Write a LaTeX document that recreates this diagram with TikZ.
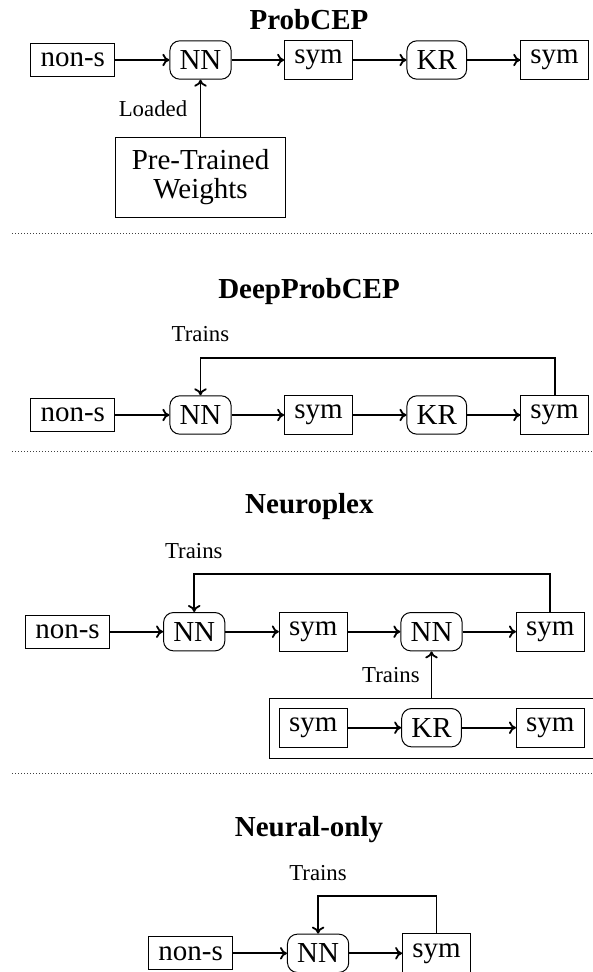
\documentclass[tikz,border=0pt]{standalone}
\usepackage{fontspec}
\setmainfont{Liberation Serif}
\usetikzlibrary{arrows.meta}
\begin{document}
\begin{tikzpicture}[x=1pt,y=-1pt,
  box/.style={draw, line width=1pt, font=\fontsize{29}{29}\selectfont, inner sep=9.7pt},
  nn/.style={box, rounded corners=10pt},
  lbl/.style={font=\fontsize{22.8}{22.8}\selectfont, anchor=base, inner sep=0pt},
  ttl/.style={font=\fontsize{29}{29}\selectfont\bfseries, anchor=base, inner sep=0pt},
  flow/.style={line width=1.8pt, -{To[length=7pt,width=12.5pt]}},
  rule/.style={dash pattern=on 1pt off 2pt, line width=0.9pt, black!75},
]
\useasboundingbox (0,0) rectangle (593,972);
\clip (0,0) rectangle (593,972);

% ---------- ProbCEP ----------
\node[ttl] (t1) at (309,29.3) {ProbCEP};
\node[box] (a1) at (72.8,60) {non-s};
\node[nn]  (b1) at (200.5,60) {NN};
\node[box] (c1) at (318.5,60) {sym};
\node[nn]  (d1) at (436.8,60) {KR};
\node[box] (e1) at (554.6,60) {sym};
\node[box, minimum width=170pt, minimum height=80.5pt, align=center,
      font=\fontsize{29}{28.5}\selectfont] (w1) at (200.5,177.3) {Pre-Trained\\Weights};
\node[lbl] (l1) at (153,116) {Loaded};
\draw[flow] (a1) -- (b1);
\draw[flow] (b1) -- (c1);
\draw[flow] (c1) -- (d1);
\draw[flow] (d1) -- (e1);
\draw[flow] (w1.north) -- (b1.south);

\draw[rule] (12,233.8) -- (593,233.8);

% ---------- DeepProbCEP ----------
\node[ttl] (t2) at (309,298.3) {DeepProbCEP};
\node[box] (a2) at (72.8,415) {non-s};
\node[nn]  (b2) at (200.5,415) {NN};
\node[box] (c2) at (318.5,415) {sym};
\node[nn]  (d2) at (436.8,415) {KR};
\node[box] (e2) at (554.6,415) {sym};
\node[lbl] (l2) at (200.4,341) {Trains};
\coordinate (f2) at (0,357.7);
\draw[flow] (a2) -- (b2);
\draw[flow] (b2) -- (c2);
\draw[flow] (c2) -- (d2);
\draw[flow] (d2) -- (e2);
\draw[flow] (e2.north) -- (e2.north |- f2) -| (b2.north);

\draw[rule] (12,451.7) -- (593,451.7);

% ---------- Neuroplex ----------
\node[ttl] (t3) at (309.4,513.3) {Neuroplex};
\node[box] (a3) at (67.5,631.7) {non-s};
\node[nn]  (b3) at (194.2,631.7) {NN};
\node[box] (c3) at (313.2,631.7) {sym};
\node[nn]  (d3) at (431.5,631.7) {NN};
\node[box] (e3) at (550.3,631.7) {sym};
\node[lbl] (l3) at (193.8,558.3) {Trains};
\coordinate (f3) at (0,574);
\draw[flow] (a3) -- (b3);
\draw[flow] (b3) -- (c3);
\draw[flow] (c3) -- (d3);
\draw[flow] (d3) -- (e3);
\draw[flow] (e3.north) -- (e3.north |- f3) -| (b3.north);
% symbolic reasoning block feeding the second network
\node[draw, line width=1pt, minimum width=331pt, minimum height=60pt, inner sep=0pt,
      anchor=north west] (g3) at (269.3,697.7) {};
\node[box] (h3) at (313.2,727.7) {sym};
\node[nn]  (i3) at (431.5,727.7) {KR};
\node[box] (j3) at (550.3,727.7) {sym};
\draw[flow] (h3) -- (i3);
\draw[flow] (i3) -- (j3);
\node[lbl] (m3) at (390.9,682.7) {Trains};
\draw[flow] (g3.north -| d3) -- (d3.south);

\draw[rule] (12,773.3) -- (593,773.3);

% ---------- Neural-only ----------
\node[ttl] (t4) at (309,836) {Neural-only};
\node[box] (a4) at (190.6,953.3) {non-s};
\node[nn]  (b4) at (318.1,953.3) {NN};
\node[box] (c4) at (436.5,953.3) {sym};
\node[lbl] (l4) at (318,880) {Trains};
\coordinate (f4) at (0,896);
\draw[flow] (a4) -- (b4);
\draw[flow] (b4) -- (c4);
\draw[flow] (c4.north) -- (c4.north |- f4) -| (b4.north);
\end{tikzpicture}
\end{document}
